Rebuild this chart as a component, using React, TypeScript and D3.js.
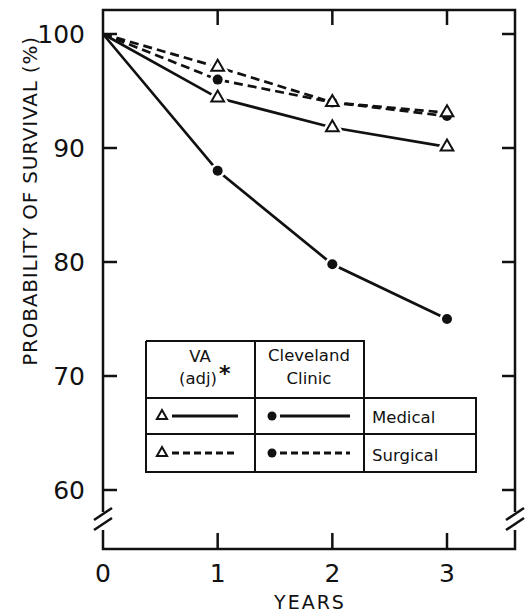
import React, { useEffect, useRef } from 'react';
import * as d3 from 'd3';

const years = [0, 1, 2, 3];
const vaMedical = [100, 94.4, 91.8, 90.1];
const vaSurgical = [100, 97.1, 94.0, 93.1];
const ccMedical = [100, 88.0, 79.8, 75.0];
const ccSurgical = [100, 96.0, 94.0, 92.8];
const yTicks = [60, 70, 80, 90, 100];
const xTicks = [0, 1, 2, 3];

const FONT = '"DejaVu Sans", sans-serif';

const App = () => {
  const ref = useRef<SVGSVGElement>(null);

  useEffect(() => {
    const svg = d3.select(ref.current);
    svg.selectAll('*').remove();

    const left = 103, right = 515, top = 10, bottom = 549;
    const x = d3.scaleLinear().domain([0, 3]).range([left, 447]);
    const y = d3.scaleLinear().domain([60, 100]).range([490, 34]);
    const ink = '#111';

    // frame with axis breaks
    const g = svg.append('g').attr('stroke', ink).attr('stroke-width', 2.5).attr('fill', 'none');
    g.append('path').attr('d', `M${left},512 L${left},${top} L${right},${top} L${right},512`);
    g.append('path').attr('d', `M${left},530 L${left},${bottom} L${right},${bottom} L${right},530`);
    // break slashes
    [left, right].forEach(bx => {
      g.append('line').attr('x1', bx - 9).attr('y1', 520).attr('x2', bx + 9).attr('y2', 508);
      g.append('line').attr('x1', bx - 9).attr('y1', 530).attr('x2', bx + 9).attr('y2', 518);
    });

    // ticks
    yTicks.forEach(t => {
      g.append('line').attr('x1', left).attr('x2', left + 14).attr('y1', y(t)).attr('y2', y(t));
      g.append('line').attr('x1', right - 13).attr('x2', right).attr('y1', y(t)).attr('y2', y(t));
    });
    xTicks.slice(1).forEach(t => {
      g.append('line').attr('x1', x(t)).attr('x2', x(t)).attr('y1', top).attr('y2', top + 15);
      g.append('line').attr('x1', x(t)).attr('x2', x(t)).attr('y1', bottom).attr('y2', bottom - 16);
    });

    // tick labels
    svg.selectAll('.ylab').data(yTicks).enter().append('text')
      .attr('x', 85).attr('y', d => y(d) + 9)
      .attr('text-anchor', 'end').attr('font-family', FONT).attr('font-size', 25)
      .attr('fill', ink).text(d => d);
    svg.selectAll('.xlab').data(xTicks).enter().append('text')
      .attr('x', d => x(d)).attr('y', 582)
      .attr('text-anchor', 'middle').attr('font-family', FONT).attr('font-size', 25)
      .attr('fill', ink).text(d => d);

    svg.append('text').attr('x', 310).attr('y', 609).attr('text-anchor', 'middle')
      .attr('font-family', FONT).attr('font-size', 19).attr('letter-spacing', 2)
      .attr('fill', ink).text('YEARS');
    svg.append('text').attr('transform', 'translate(37,201) rotate(-90)')
      .attr('text-anchor', 'middle').attr('font-family', FONT).attr('font-size', 20)
      .attr('letter-spacing', 0.8).attr('fill', ink).text('PROBABILITY OF SURVIVAL (%)');

    const line = d3.line<number>().x((d, i) => x(years[i])).y(d => y(d));
    const series = [
      { data: vaSurgical, dash: '9,5', mark: 'tri' },
      { data: ccSurgical, dash: '9,5', mark: 'dot' },
      { data: vaMedical, dash: null, mark: 'tri' },
      { data: ccMedical, dash: null, mark: 'dot' },
    ];
    series.forEach(s => {
      svg.append('path').attr('d', line(s.data))
        .attr('fill', 'none').attr('stroke', ink).attr('stroke-width', 2.7)
        .attr('stroke-dasharray', s.dash);
    });
    const tri = d3.symbol().type(d3.symbolTriangle).size(70);
    const pts = series.flatMap(s => s.data.slice(1).map((v, i) => ({
      px: x(years[i + 1]), py: y(v), mark: s.mark,
    })));
    // white halos first so lines stop short of the markers
    pts.forEach(p => {
      if (p.mark === 'tri') {
        svg.append('path').attr('d', tri()).attr('transform', `translate(${p.px},${p.py})`)
          .attr('fill', 'white').attr('stroke', 'white').attr('stroke-width', 7);
      } else {
        svg.append('circle').attr('cx', p.px).attr('cy', p.py).attr('r', 7.5).attr('fill', 'white');
      }
    });
    pts.filter(p => p.mark === 'dot').forEach(p => {
      svg.append('circle').attr('cx', p.px).attr('cy', p.py).attr('r', 5).attr('fill', ink);
    });
    pts.filter(p => p.mark === 'tri').forEach(p => {
      svg.append('path').attr('d', tri()).attr('transform', `translate(${p.px},${p.py})`)
        .attr('fill', 'white').attr('stroke', ink).attr('stroke-width', 2);
    });

    // legend table
    const lg = svg.append('g').attr('stroke', ink).attr('stroke-width', 2).attr('fill', 'none');
    const c0 = 146, c1 = 255, c2 = 364, c3 = 476;
    const r0 = 341, r1 = 398, r2 = 434, r3 = 472;
    lg.append('path').attr('d', `M${c0},${r0} H${c2} V${r3} M${c0},${r0} V${r3} H${c3} V${r1} H${c0} M${c1},${r0} V${r3} M${c0},${r2} H${c3}`);

    const txt = (tx: number, ty: number, s: string, anchor = 'middle') =>
      svg.append('text').attr('x', tx).attr('y', ty).attr('text-anchor', anchor)
        .attr('font-family', FONT).attr('font-size', 16.5).attr('fill', ink).text(s);
    txt(200, 362, 'VA');
    txt(198, 384, '(adj)');
    svg.append('text').attr('x', 219).attr('y', 381).attr('font-family', FONT)
      .attr('font-size', 22).attr('font-weight', 'bold').attr('fill', ink).text('*');
    txt(309, 361, 'Cleveland');
    txt(309, 384, 'Clinic');
    txt(372, 423, 'Medical', 'start');
    txt(372, 461, 'Surgical', 'start');

    const legendRows = [
      { cy: 416, dash: null },
      { cy: 453, dash: '7,4' },
    ];
    const small = d3.symbol().type(d3.symbolTriangle).size(45);
    legendRows.forEach(r => {
      svg.append('path').attr('d', small()).attr('transform', `translate(162,${r.cy})`)
        .attr('fill', 'white').attr('stroke', ink).attr('stroke-width', 2);
      svg.append('line').attr('x1', 172).attr('x2', 238).attr('y1', r.cy).attr('y2', r.cy)
        .attr('stroke', ink).attr('stroke-width', 3).attr('stroke-dasharray', r.dash);
      svg.append('circle').attr('cx', 272).attr('cy', r.cy).attr('r', 4.5).attr('fill', ink);
      svg.append('line').attr('x1', 280).attr('x2', 350).attr('y1', r.cy).attr('y2', r.cy)
        .attr('stroke', ink).attr('stroke-width', 3).attr('stroke-dasharray', r.dash);
    });
  }, []);

  return (
    <svg ref={ref} width={525} height={614}
      style={{ position: 'absolute', left: 0, top: 0, background: 'white' }} />
  );
};

export default App;
